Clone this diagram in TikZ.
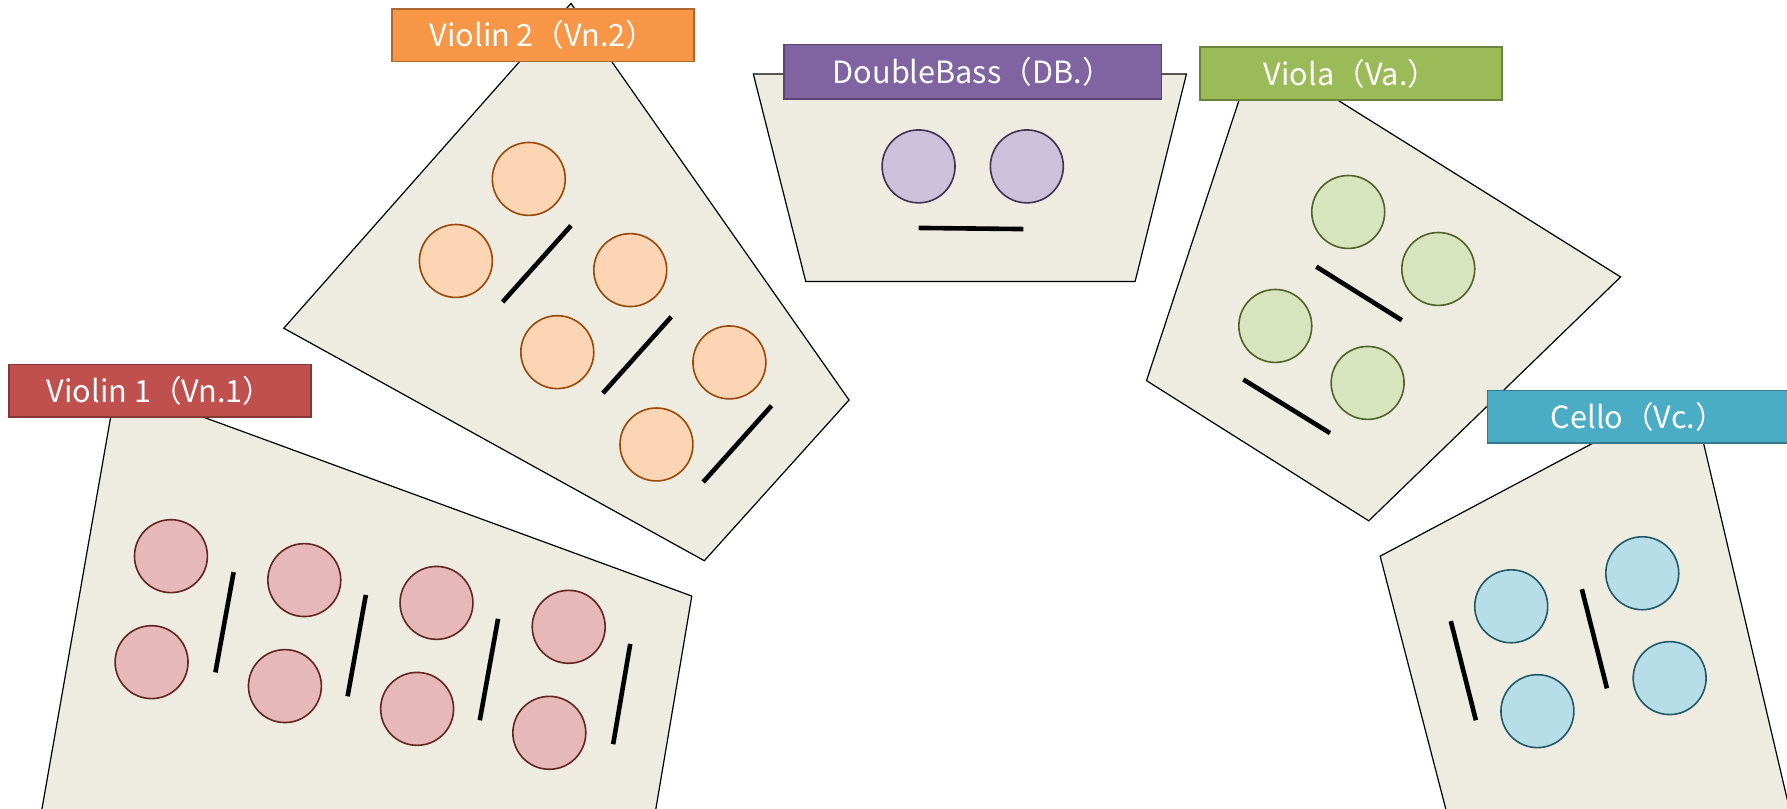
\documentclass[tikz,border=0pt]{standalone}
\usepackage{fontspec}
\setmainfont{Noto Sans CJK JP}

\definecolor{palco}{HTML}{EEECE1}
\definecolor{rosso}{HTML}{C0504D}
\definecolor{arancio}{HTML}{F79646}
\definecolor{viola}{HTML}{8064A2}
\definecolor{verde}{HTML}{9BBB59}
\definecolor{azzurro}{HTML}{4BACC6}
% tinte chiare e bordi dei musicisti
\definecolor{rossoc}{HTML}{E6B9B8}   \definecolor{rossos}{HTML}{632523}
\definecolor{arancioc}{HTML}{FCD5B5} \definecolor{arancios}{HTML}{984807}
\definecolor{violac}{HTML}{CCC1DA}   \definecolor{violas}{HTML}{3F3151}
\definecolor{verdec}{HTML}{D7E4BD}   \definecolor{verdes}{HTML}{4F6228}
\definecolor{azzurroc}{HTML}{B7DEE8} \definecolor{azzurros}{HTML}{215968}

\tikzset{
  sezione/.style={draw=black, fill=palco, line width=0.6pt},
  leggio/.style={line width=2.3pt},
  etichetta/.style={draw=#1!70!black, fill=#1, line width=0.8pt, text=white,
    inner sep=0pt, minimum width=5.3cm, minimum height=0.92cm,
    font=\fontsize{15.3}{18}\selectfont},
  musico/.style={circle, draw=#1s, fill=#1c, line width=0.8pt, minimum size=1.28cm, inner sep=0pt},
}

\begin{document}
\begin{tikzpicture}[x=0.02cm, y=-0.02cm]

\useasboundingbox (0,0) rectangle (1568,709);
\clip (0,0) rectangle (1568,709);

%violini primi
\begin{scope}
\draw[sezione] (102,338) -- (607,523) -- (567,760) -- (28,760) -- cycle;

\node[musico=rosso] (vn1a) at (150,488) {};
\node[musico=rosso] (vn1b) at (133,581) {};
\node[musico=rosso] (vn1c) at (267,509) {};
\node[musico=rosso] (vn1d) at (250,602) {};
\node[musico=rosso] (vn1e) at (383,529) {};
\node[musico=rosso] (vn1f) at (366,622) {};
\node[musico=rosso] (vn1g) at (499,550) {};
\node[musico=rosso] (vn1h) at (482,643) {};

\draw[leggio] (205,502) -- (189,590);
\draw[leggio] (321,522) -- (305,611);
\draw[leggio] (437,543) -- (421,632);
\draw[leggio] (553,565) -- (538,653);

\node[etichetta=rosso] (vn1) at (140.5,343) {Violin 1（Vn.1）};
\end{scope}

%violini secondi
\begin{scope}
\draw[sezione] (501,3) -- (745,351) -- (618,492) -- (249,288) -- cycle;

\node[musico=arancio] (vn2a) at (464,157) {};
\node[musico=arancio] (vn2b) at (400,229) {};
\node[musico=arancio] (vn2c) at (553,237) {};
\node[musico=arancio] (vn2d) at (489,309) {};
\node[musico=arancio] (vn2e) at (640,318) {};
\node[musico=arancio] (vn2f) at (576,390) {};

\draw[leggio] (501,198) -- (441,265);
\draw[leggio] (589,278) -- (529,345);
\draw[leggio] (677,356) -- (617,423);

\node[etichetta=arancio] (vn2) at (476.5,31) {Violin 2（Vn.2）};
\end{scope}

%contrabbassi
\begin{scope}
\draw[sezione] (661,65) -- (1041,65) -- (996,247) -- (707,247) -- cycle;

\node[musico=viola] (dba) at (806,146) {};
\node[musico=viola] (dbb) at (901,146) {};

\draw[leggio] (806,200) -- (898,201);

\node[etichetta=viola, minimum width=6.62cm, minimum height=0.96cm] (db) at (853.5,63) {DoubleBass（DB.）};
\end{scope}

%viole
\begin{scope}
\draw[sezione] (1102,43) -- (1422,243) -- (1201,457) -- (1006,334) -- cycle;

\node[musico=verde] (vaa) at (1183,186) {};
\node[musico=verde] (vab) at (1262,236) {};
\node[musico=verde] (vac) at (1119,286) {};
\node[musico=verde] (vad) at (1200,336) {};

\draw[leggio] (1155,234) -- (1230,281);
\draw[leggio] (1091,333) -- (1167,380);

\node[etichetta=verde, minimum height=0.94cm] (va) at (1185.5,64.5) {Viola（Va.）};
\end{scope}

%violoncelli
\begin{scope}
\draw[sezione] (1484,343) -- (1585,773) -- (1285,773) -- (1211,488) -- cycle;

\node[musico=azzurro] (vca) at (1326,532) {};
\node[musico=azzurro] (vcb) at (1441,503) {};
\node[musico=azzurro] (vcc) at (1349,624) {};
\node[musico=azzurro] (vcd) at (1465,595) {};

\draw[leggio] (1273,545) -- (1295,632);
\draw[leggio] (1388,517) -- (1410,604);

\node[etichetta=azzurro] (vc) at (1437.5,365.5) {Cello（Vc.）};
\end{scope}

\end{tikzpicture}
\end{document}
